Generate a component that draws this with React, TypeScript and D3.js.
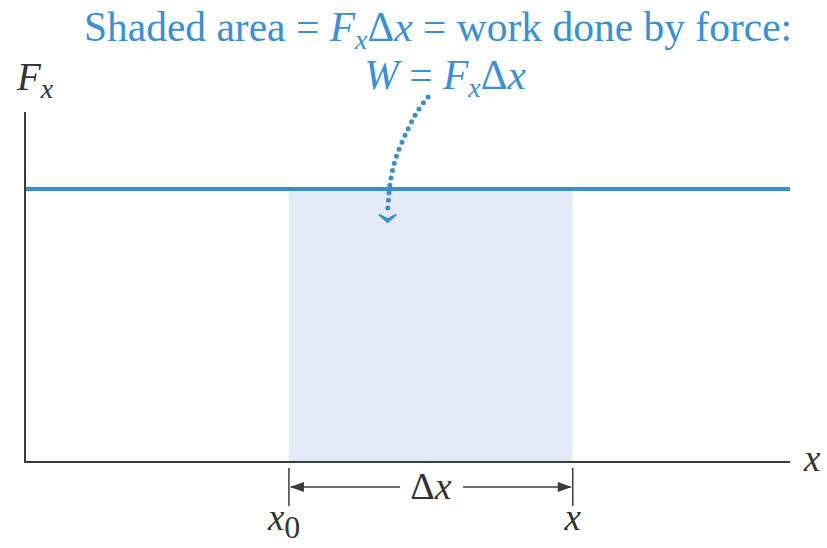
import React from "react";
import * as d3 from "d3";

const xDomain = [0, 10];
const yDomain = [0, 1];
const forceValue = [0.78];
const intervalStart = [3.45];
const intervalEnd = [7.16];
const curvePoints: [number, number][] = [
  [5.27, 1.043], [5.14, 1.006], [4.97, 0.934], [4.84, 0.863], [4.77, 0.791], [4.74, 0.714],
];

const W = 827, H = 548;
const blue = "#3d8ccc";
const textBlue = "#3b8fd2";
const axis = "#3c3c3c";
const ff = { fontFamily: "Times New Roman, Liberation Serif, Tinos, serif" };

export default function App() {
  const x = d3.scaleLinear().domain(xDomain).range([25, 790]);
  const y = d3.scaleLinear().domain(yDomain).range([462, 112]);
  const F = forceValue[0];
  const x0 = x(intervalStart[0]);
  const x1 = x(intervalEnd[0]);
  const line = d3.line<[number, number]>().x(d => x(d[0])).y(d => y(d[1])).curve(d3.curveCatmullRom);
  const last = curvePoints[curvePoints.length - 1];
  const ax = x(last[0]), ay = y(last[1]);
  const dimY = 487;
  return (
    <svg width={W} height={H} style={{ position: "absolute", left: 0, top: 0, ...ff }}>
      <rect x={x0} y={y(F)} width={x1 - x0} height={y(0) - y(F)} fill="#e4ebf8" />
      <line x1={x(0)} x2={x(0)} y1={y(1)} y2={y(0) + 1} stroke={axis} strokeWidth={2} />
      <line x1={x(0)} x2={x(xDomain[1])} y1={y(0)} y2={y(0)} stroke={axis} strokeWidth={2} />
      <line x1={x(0) + 1} x2={x(xDomain[1])} y1={y(F)} y2={y(F)} stroke={blue} strokeWidth={4} />
      <path d={line(curvePoints) || ""} fill="none" stroke={blue} strokeWidth={5} strokeDasharray="0 7.5" strokeLinecap="round" />
      <path d={`M${ax - 8},${ay + 3} L${ax},${ay + 10} L${ax + 8},${ay + 3} L${ax},${ay + 7} Z`} fill={blue} stroke={blue} strokeWidth={2} strokeLinejoin="round" />
      <line x1={x0} x2={x0} y1={468} y2={506} stroke={axis} strokeWidth={1.5} />
      <line x1={x1} x2={x1} y1={468} y2={506} stroke={axis} strokeWidth={1.5} />
      <line x1={x0 + 2} x2={400} y1={dimY} y2={dimY} stroke={axis} strokeWidth={1.5} />
      <line x1={463} x2={x1 - 2} y1={dimY} y2={dimY} stroke={axis} strokeWidth={1.5} />
      <path d={`M${x0 + 1},${dimY} L${x0 + 15},${dimY - 5} L${x0 + 15},${dimY + 5} Z`} fill={axis} />
      <path d={`M${x1 - 1},${dimY} L${x1 - 15},${dimY - 5} L${x1 - 15},${dimY + 5} Z`} fill={axis} />
      <text style={ff} x={431} y={499} fontSize={38} textAnchor="middle" fill="#333">Δ<tspan fontStyle="italic">x</tspan></text>
      <text style={ff} x={x0 - 21} y={530} fontSize={37} fill="#333"><tspan fontStyle="italic">x</tspan><tspan fontSize={32} dy={8}>0</tspan></text>
      <text style={ff} x={x1} y={530} fontSize={37} textAnchor="middle" fontStyle="italic" fill="#333">x</text>
      <text style={ff} x={804} y={471} fontSize={37} fontStyle="italic" fill="#333">x</text>
      <text style={ff} x={17} y={90} fontSize={39} fill="#333"><tspan fontStyle="italic">F</tspan><tspan fontStyle="italic" fontSize={28} dy={8}>x</tspan></text>
      <text style={ff} x={438} y={41} fontSize={41.5} textAnchor="middle" fill={textBlue}>Shaded area = <tspan fontStyle="italic">F</tspan><tspan fontStyle="italic" fontSize={28} dy={8}>x</tspan><tspan dy={-8}>Δ</tspan><tspan fontStyle="italic">x</tspan> = work done by force:</text>
      <text style={ff} x={445} y={89} fontSize={41.5} textAnchor="middle" fill={textBlue}><tspan fontStyle="italic">W</tspan> = <tspan fontStyle="italic">F</tspan><tspan fontStyle="italic" fontSize={28} dy={8}>x</tspan><tspan dy={-8}>Δ</tspan><tspan fontStyle="italic">x</tspan></text>
    </svg>
  );
}
